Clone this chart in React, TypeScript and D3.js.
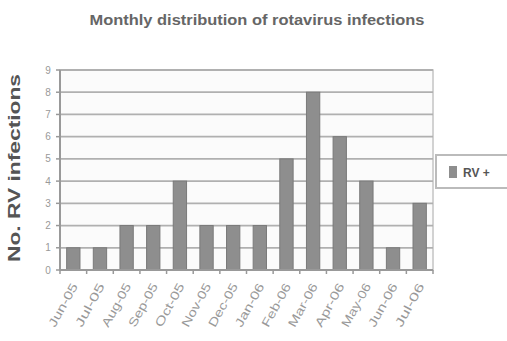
import React from "react";
import * as d3 from "d3";

const months = ["Jun-05","Jul-05","Aug-05","Sep-05","Oct-05","Nov-05","Dec-05","Jan-06","Feb-06","Mar-06","Apr-06","May-06","Jun-06","Jul-06"];
const rvCounts = [1,1,2,2,4,2,2,2,5,8,6,4,1,3];
const yTicks = [0,1,2,3,4,5,6,7,8,9];
const titleText = "Monthly distribution of rotavirus infections";
const yTitle = "No. RV infections";
const legendLabel = "RV +";

export default function App() {
  const W = 507, H = 341;
  const left = 60, right = 433, top = 70, bottom = 270;
  const x = d3.scaleBand<string>().domain(months).range([left, right]).paddingInner(0.5).paddingOuter(0.25);
  const xb = d3.scaleBand<string>().domain(months).range([left, right]);
  const y = d3.scaleLinear().domain([0, 9]).range([bottom, top]);
  return (
    <svg width={W} height={H} style={{ position: "absolute", left: 0, top: 0, fontFamily: "Liberation Sans, Arial, sans-serif" }}>
      <rect x={0} y={0} width={W} height={H} fill="#fff" />
      <text x={257} y={25} textAnchor="middle" fontSize={15} fontWeight="bold" fill="#666" textLength={335} lengthAdjust="spacingAndGlyphs">{titleText}</text>
      <rect x={left} y={top} width={right - left} height={bottom - top} fill="#fbfbfb" stroke="#c4c4c4" strokeWidth={1.5} />
      {yTicks.map(t => (
        <g key={t}>
          <line x1={left} x2={right} y1={y(t)} y2={y(t)} stroke="#b0b0b0" strokeWidth={1.8} />
          <line x1={left - 4} x2={left} y1={y(t)} y2={y(t)} stroke="#999" strokeWidth={1.5} />
          <text x={48} y={y(t) + 3.5} textAnchor="middle" fontSize={10} fill="#999">{t}</text>
        </g>
      ))}
      {months.map((m, i) => (
        <rect key={m} x={x(m)!} y={y(rvCounts[i])} width={x.bandwidth()} height={bottom - y(rvCounts[i])} fill="#8e8e8e" stroke="#7a7a7a" strokeWidth={1} />
      ))}
      <line x1={left} x2={left} y1={top} y2={bottom} stroke="#999" strokeWidth={2} />
      <line x1={left} x2={right} y1={bottom} y2={bottom} stroke="#999" strokeWidth={2} />
      {[...months.map(m => xb(m)!), right].map((v, i) => (
        <line key={i} x1={v} x2={v} y1={bottom} y2={bottom + 4} stroke="#999" strokeWidth={1.5} />
      ))}
      {months.map(m => {
        const cx = xb(m)! + xb.bandwidth() / 2 + 5;
        return (
          <text key={m} transform={`translate(${cx},${286}) rotate(-61)`} textAnchor="end" fontSize={12} fill="#999" textLength={48} lengthAdjust="spacingAndGlyphs">{m}</text>
        );
      })}
      <text transform={`translate(20,${(73 + 263) / 2}) rotate(-90)`} textAnchor="middle" fontSize={16} fontWeight="bold" fill="#555" textLength={188} lengthAdjust="spacingAndGlyphs">{yTitle}</text>
      <rect x={436} y={155} width={75} height={33} fill="#fff" stroke="#bbb" strokeWidth={2} />
      <rect x={449} y={166} width={8} height={12} fill="#8e8e8e" />
      <text x={463} y={177} fontSize={12} fontWeight="bold" fill="#555">{legendLabel}</text>
    </svg>
  );
}
